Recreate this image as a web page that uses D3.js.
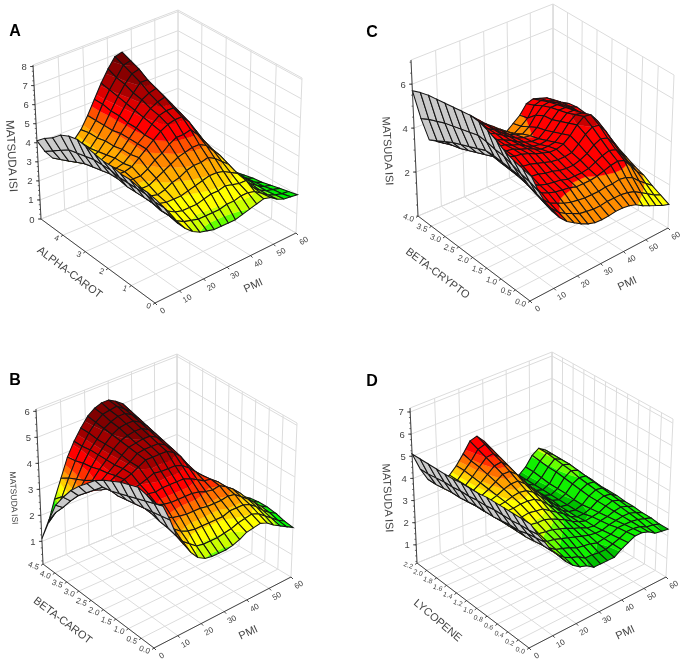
<!DOCTYPE html>
<html><head><meta charset="utf-8">
<script src="https://cdn.jsdelivr.net/npm/d3@7"></script>
<style>html,body{margin:0;padding:0;background:#fff}svg{display:block;filter:blur(0.35px)}text{font-family:"Liberation Sans",Arial,sans-serif;fill:#444}</style>
</head><body><svg id="c" width="685" height="662"></svg>
<script>
// Surface heights: one row per level of the nutrient (0 .. max), one column per PMI step
const pmiGrid=[0,3,6,9,12,15,18,21,24,27,30,33,36,39,42,45,48,51,54,57,60];
const matsudaA=[
[4.9,4.4,3.8,3.3,2.9,2.6,2.4,2.3,2.2,2.2,2.2,2.2,2.3,2.4,2.5,2.6,2.5,2.25,2.1,2.05,2.0],
[5.0,4.4,3.8,3.4,3.0,2.8,2.7,2.6,2.6,2.6,2.6,2.7,2.7,2.8,2.8,2.7,2.45,2.2,2.05,1.95,1.9],
[5.0,4.5,3.9,3.4,3.2,3.0,2.9,2.9,2.9,3.0,3.1,3.1,3.2,3.1,3.0,3.0,2.5,2.2,2.0,1.9,1.8],
[5.1,4.5,3.9,3.5,3.3,3.2,3.2,3.2,3.3,3.4,3.5,3.6,3.6,3.5,3.3,3.1,2.6,2.25,2.0,1.8,1.7],
[5.1,4.5,3.9,3.6,3.4,3.3,3.4,3.6,3.7,3.9,4.0,4.0,4.1,3.9,3.6,3.3,2.7,2.3,2.0,1.75,1.6],
[5.2,4.5,3.9,3.7,3.5,3.5,3.7,3.9,4.1,4.3,4.4,4.5,4.5,4.3,3.9,3.5,2.9,2.4,2.0,1.7,1.55],
[5.2,4.6,4.0,3.7,3.7,3.7,3.9,4.2,4.4,4.7,4.9,4.9,5.0,4.6,4.1,3.6,3.0,2.4,1.9,1.6,1.45],
[5.3,4.6,4.0,3.8,3.8,3.9,4.2,4.5,4.8,5.1,5.3,5.4,5.4,5.0,4.4,3.8,3.0,2.4,1.85,1.55,1.35],
[5.4,4.6,3.9,3.7,3.7,3.8,4.1,4.5,4.8,5.2,5.5,5.6,5.6,5.2,4.5,3.9,3.1,2.4,1.9,1.55,1.35],
[5.5,4.5,3.8,3.6,3.6,3.8,4.1,4.5,4.9,5.3,5.6,5.8,5.9,5.4,4.7,3.9,3.1,2.5,1.9,1.55,1.35],
[5.4,4.4,3.7,3.5,3.5,3.7,4.0,4.5,4.9,5.4,5.8,6.0,6.1,5.6,4.8,4.0,3.2,2.5,1.9,1.5,1.3],
[5.2,4.3,3.5,3.3,3.4,3.6,4.0,4.4,5.0,5.5,5.9,6.3,6.3,5.7,5.0,4.1,3.3,2.6,1.95,1.5,1.3],
[4.8,4.0,3.3,3.1,3.3,3.5,3.9,4.4,5.0,5.6,6.1,6.5,6.6,5.9,5.1,4.2,3.4,2.6,2.0,1.5,1.25],
[4.5,3.7,3.1,3.0,3.1,3.5,3.9,4.4,5.1,5.7,6.2,6.7,6.8,6.1,5.3,4.3,3.5,2.7,2.0,1.5,1.2],
[4.1,3.4,2.9,2.8,3.0,3.4,3.8,4.4,5.1,5.8,6.4,6.9,7.0,6.3,5.4,4.4,3.5,2.7,2.0,1.5,1.2]];
const matsudaB=[
[5.2,5.0,4.4,3.7,3.3,2.9,2.6,2.45,2.4,2.4,2.4,2.45,2.55,2.7,2.75,2.8,2.7,2.5,2.35,2.2,2.05],
[5.3,4.9,4.35,3.8,3.45,3.1,2.9,2.7,2.65,2.65,2.65,2.7,2.75,2.85,2.9,2.95,2.85,2.65,2.45,2.25,2.1],
[5.4,4.8,4.3,3.85,3.6,3.35,3.15,3.05,3.0,3.0,3.0,3.0,3.0,3.1,3.1,3.1,3.0,2.8,2.55,2.35,2.2],
[5.3,4.7,4.25,3.95,3.75,3.6,3.45,3.4,3.35,3.35,3.35,3.3,3.3,3.3,3.35,3.3,3.1,2.9,2.65,2.4,2.25],
[5.2,4.6,4.2,4.0,3.9,3.85,3.75,3.7,3.7,3.7,3.7,3.65,3.55,3.5,3.55,3.4,3.2,2.95,2.65,2.4,2.25],
[5.05,4.5,4.15,4.05,4.0,4.05,4.0,4.05,4.05,4.05,4.05,3.95,3.8,3.65,3.6,3.4,3.1,2.85,2.55,2.3,2.2],
[4.9,4.4,4.1,4.1,4.15,4.2,4.3,4.4,4.35,4.35,4.35,4.25,4.05,3.8,3.55,3.3,3.0,2.75,2.45,2.2,2.1],
[4.7,4.35,4.2,4.2,4.3,4.4,4.55,4.7,4.7,4.7,4.7,4.55,4.3,3.9,3.5,3.2,2.9,2.6,2.3,2.1,2.0],
[4.4,4.05,3.95,4.1,4.25,4.4,4.55,4.75,4.8,4.8,4.8,4.65,4.4,4.0,3.6,3.25,2.9,2.6,2.25,2.05,1.9],
[4.1,3.75,3.75,3.95,4.15,4.35,4.6,4.8,4.85,4.9,4.9,4.75,4.5,4.1,3.65,3.3,2.95,2.55,2.2,2.0,1.8],
[3.75,3.45,3.55,3.8,4.1,4.35,4.65,4.85,4.95,5.0,5.0,4.85,4.6,4.2,3.75,3.35,2.95,2.5,2.15,1.9,1.7],
[3.3,3.05,3.25,3.6,4.0,4.35,4.65,4.9,5.05,5.1,5.1,4.95,4.7,4.3,3.8,3.4,2.95,2.55,2.1,1.85,1.6],
[2.8,2.6,2.95,3.45,3.95,4.35,4.65,4.95,5.1,5.2,5.2,5.05,4.8,4.4,3.9,3.45,3.0,2.5,2.1,1.75,1.5],
[2.0,2.2,2.7,3.3,3.85,4.3,4.7,5.0,5.2,5.25,5.3,5.1,4.9,4.5,4.0,3.55,3.0,2.5,2.05,1.65,1.4],
[1.1,1.6,2.4,3.1,3.8,4.3,4.7,5.05,5.25,5.35,5.35,5.2,5.0,4.6,4.1,3.6,3.0,2.5,2.0,1.6,1.3]];
const matsudaC=[
[5.2,4.45,3.8,3.3,2.9,2.6,2.4,2.2,2.05,1.95,1.93,1.95,2.0,2.0,1.95,1.85,1.65,1.5,1.35,1.2,1.1],
[5.3,4.6,3.95,3.45,3.05,2.75,2.55,2.4,2.25,2.2,2.15,2.15,2.2,2.2,2.2,2.15,2.05,1.85,1.65,1.45,1.3],
[5.4,4.7,4.1,3.6,3.2,2.9,2.75,2.6,2.5,2.45,2.4,2.4,2.4,2.45,2.45,2.5,2.45,2.3,2.0,1.75,1.5],
[5.55,4.85,4.25,3.75,3.35,3.1,2.95,2.85,2.8,2.75,2.65,2.65,2.65,2.7,2.8,2.9,2.95,2.85,2.45,2.05,1.75],
[5.8,5.0,4.3,3.85,3.45,3.2,3.05,2.95,2.9,2.85,2.75,2.75,2.75,2.8,2.95,3.1,3.2,3.1,2.7,2.25,1.9],
[6.0,5.05,4.35,3.9,3.55,3.35,3.2,3.15,3.05,3.0,2.9,2.85,2.85,2.95,3.1,3.35,3.5,3.4,3.0,2.5,2.1],
[6.15,5.15,4.4,3.95,3.7,3.55,3.4,3.35,3.25,3.15,3.05,3.0,3.0,3.05,3.3,3.6,3.8,3.75,3.35,2.8,2.3],
[6.2,5.2,4.4,4.0,3.8,3.7,3.6,3.55,3.45,3.3,3.2,3.1,3.1,3.2,3.45,3.8,4.05,4.0,3.6,3.0,2.5],
[6.15,5.1,4.25,3.85,3.7,3.65,3.6,3.55,3.4,3.3,3.15,3.0,3.0,3.05,3.3,3.65,3.9,3.85,3.55,3.05,2.65],
[6.1,5.0,4.1,3.7,3.55,3.55,3.55,3.5,3.35,3.25,3.05,2.9,2.85,2.9,3.15,3.5,3.75,3.75,3.5,3.15,2.85],
[6.05,4.9,3.95,3.55,3.45,3.5,3.55,3.5,3.35,3.2,3.0,2.85,2.75,2.75,3.0,3.35,3.65,3.65,3.45,3.2,3.0],
[6.0,4.8,3.8,3.4,3.35,3.5,3.6,3.55,3.4,3.2,3.0,2.8,2.7,2.65,2.9,3.3,3.55,3.55,3.4,3.2,3.05],
[5.95,4.65,3.6,3.3,3.3,3.5,3.65,3.6,3.4,3.2,2.95,2.75,2.6,2.5,2.7,3.1,3.4,3.45,3.3,3.15,3.0],
[5.85,4.5,3.4,3.15,3.25,3.5,3.7,3.7,3.45,3.2,2.9,2.7,2.5,2.3,2.5,2.75,3.2,3.3,3.15,3.05,2.85],
[5.7,4.3,3.2,3.0,3.2,3.5,3.75,3.75,3.5,3.2,2.9,2.65,2.4,2.15,2.4,2.65,3.05,3.15,3.05,2.95,2.75]];
const matsudaD=[
[5.2,4.65,4.2,3.7,3.4,3.0,2.7,2.5,2.4,2.2,2.2,2.2,2.2,2.4,2.55,2.7,2.7,2.6,2.4,2.35,2.3],
[5.2,4.6,4.15,3.7,3.4,3.05,2.8,2.65,2.55,2.35,2.35,2.3,2.3,2.4,2.5,2.65,2.65,2.6,2.45,2.4,2.3],
[5.2,4.6,4.1,3.65,3.4,3.1,2.9,2.8,2.7,2.55,2.5,2.45,2.35,2.4,2.45,2.6,2.6,2.6,2.55,2.45,2.35],
[5.2,4.55,4.0,3.6,3.4,3.2,3.0,2.95,2.85,2.75,2.65,2.55,2.45,2.4,2.4,2.5,2.55,2.6,2.6,2.5,2.35],
[5.2,4.55,4.0,3.6,3.4,3.25,3.1,3.05,3.0,2.9,2.8,2.65,2.55,2.4,2.35,2.45,2.5,2.6,2.65,2.55,2.4],
[5.2,4.55,3.95,3.6,3.45,3.3,3.25,3.2,3.2,3.1,2.95,2.8,2.6,2.45,2.35,2.4,2.45,2.6,2.7,2.6,2.4],
[5.15,4.5,3.9,3.6,3.45,3.4,3.35,3.4,3.35,3.3,3.1,2.9,2.7,2.45,2.3,2.3,2.4,2.6,2.7,2.65,2.45],
[5.15,4.5,3.9,3.6,3.5,3.5,3.5,3.55,3.55,3.5,3.3,3.0,2.75,2.5,2.3,2.25,2.35,2.6,2.75,2.7,2.45],
[5.15,4.45,3.9,3.55,3.5,3.5,3.55,3.65,3.7,3.65,3.45,3.15,2.85,2.55,2.3,2.25,2.35,2.65,2.8,2.75,2.45],
[5.1,4.45,3.85,3.55,3.45,3.5,3.6,3.75,3.85,3.85,3.6,3.25,2.95,2.6,2.35,2.25,2.4,2.7,2.85,2.8,2.5],
[5.1,4.4,3.8,3.5,3.45,3.5,3.65,3.85,4.05,4.05,3.8,3.4,3.0,2.65,2.35,2.25,2.4,2.75,2.95,2.85,2.5],
[5.1,4.4,3.8,3.5,3.45,3.5,3.7,3.95,4.2,4.25,3.95,3.5,3.1,2.7,2.35,2.25,2.4,2.8,3.0,2.9,2.5],
[5.1,4.35,3.75,3.5,3.4,3.5,3.75,4.05,4.35,4.4,4.1,3.65,3.15,2.7,2.4,2.25,2.45,2.8,3.05,2.9,2.45],
[5.1,4.3,3.7,3.5,3.4,3.5,3.8,4.1,4.5,4.6,4.25,3.75,3.25,2.75,2.4,2.25,2.5,2.85,3.1,2.9,2.45],
[5.1,4.3,3.7,3.5,3.4,3.5,3.8,4.2,4.65,4.75,4.4,3.9,3.3,2.8,2.4,2.25,2.5,2.9,3.1,2.9,2.4]];
const pmiTicks=[0,10,20,30,40,50,60];
const alphaTicks=[0,1,2,3,4];
const betaCarotTicks=[0,0.5,1,1.5,2,2.5,3,3.5,4,4.5];
const betaCryptoTicks=[0,0.5,1,1.5,2,2.5,3,3.5,4];
const lycopeneTicks=[0,0.2,0.4,0.6,0.8,1,1.2,1.4,1.6,1.8,2,2.2];
const ticksA=[0,1,2,3,4,5,6,7,8], ticksB=[1,2,3,4,5,6], ticksC=[2,4,6], ticksD=[1,2,3,4,5,6,7];
const levelsA=[1.5,2.1,2.4,2.7,3.2,3.6,4.0,4.4,4.8,5.3,5.7,6.2,6.7];
const coloursA=["#00cc00","#00ee00","#66ff00","#ccff00","#ffff00","#ffd800","#ffaa00","#ff8800","#ff5000","#ff0000","#dd0000","#aa0000","#880000","#6e0000"];
const levelsB=[1.7,2.35,2.45,2.7,2.95,3.15,3.35,3.55,3.85,4.2,4.5,4.9];
const coloursB=["#00c800","#00ff00","#66ff00","#ccff00","#ffff00","#ffd000","#ffa000","#ff7000","#ff3000","#ff0000","#cc0000","#a00000","#800000"];
const levelsC=[1.8,2.7,3.8];
const coloursC=["#ffff00","#ff8c00","#ff0000","#c80000"];
const levelsD=[2.35,2.85,3.05,3.25,3.6,3.75,3.95,4.15,4.35];
const coloursD=["#00c000","#10f000","#66ff00","#ccff00","#ffff00","#ffd000","#ffa000","#ff7000","#ff3000","#ff0000"];

// Layout of the four panels (box corners on screen, titles, label sizes)
const panels=[
{letter:"A",lp:[15,30],grid:matsudaA,xMax:5,xTicks:alphaTicks,xFmt:d3.format("d"),xFont:8,xTitle:"ALPHA-CAROT",xt:[70,272,37,11],zTicks:ticksA,zDom:[0,8.08],zMinor:0.25,zt:[12,156,87,11.5],pt:[253,285],levels:levelsA,colours:coloursA,
 F:[155,303],L:[41,219],R:[296,233],B:[178,165],LT:[33,65],RT:[302,78],BT:[178,10]},
{letter:"B",lp:[15,379],grid:matsudaB,xMax:4.5,xTicks:betaCarotTicks,xFmt:d3.format(".1f"),xFont:8,xTitle:"BETA-CAROT",xt:[63,620,37,11],zTicks:ticksB,zDom:[0.13,6.09],zMinor:0.25,zt:[14,498,87,8.5],pt:[248,632],levels:levelsB,colours:coloursB,
 F:[154,648],L:[43,564],R:[291,577],B:[177,509],LT:[36,409],RT:[297,423],BT:[177,354]},
{letter:"C",lp:[372,31],grid:matsudaC,xMax:4,xTicks:betaCryptoTicks,xFmt:d3.format(".1f"),xFont:8,xTitle:"BETA-CRYPTO",xt:[438,273,37,11],zTicks:ticksC,zDom:[0,7.1],zMinor:0.5,zt:[388,151,87,11],pt:[627,283],levels:levelsC,colours:coloursC,
 F:[530,301],L:[418,216],R:[668,228],B:[553,160],LT:[411,60],RT:[674,75],BT:[553,4]},
{letter:"D",lp:[372,380],grid:matsudaD,xMax:2.2,xTicks:lycopeneTicks,xFmt:d3.format(".1f"),xFont:6.8,xTitle:"LYCOPENE",xt:[438,620,40,11],zTicks:ticksD,zDom:[0.18,7.18],zMinor:0.25,zt:[388,498,87,11],pt:[625,632],levels:levelsD,colours:coloursD,
 F:[529,648],L:[417,563],R:[666,577],B:[552,508],LT:[410,408],RT:[673,419],BT:[552,352]}
];
const svg=d3.select("#c");
const line=d3.line();
const K=0.05;
function drawPanel(P){
  const g=svg.append("g");
  const FT=[P.LT[0]+P.RT[0]-P.BT[0],P.LT[1]+P.RT[1]-P.BT[1]];
  const sx=d3.scaleLinear().domain([0,60]).range([0,1]);
  const sy=d3.scaleLinear().domain([0,P.xMax]).range([0,1]);
  const sz=d3.scaleLinear().domain(P.zDom).range([0,1]);
  const project=(u,v,w)=>{
    const cs=[[P.F,FT,1],[P.R,P.RT,1+K],[P.L,P.LT,1+K],[P.B,P.BT,1+2*K]];
    const bs=[(1-u)*(1-v),u*(1-v),(1-u)*v,u*v];
    let X=0,Y=0,W=0;
    cs.forEach((c,i)=>{const b=bs[i]*c[2];
      X+=b*(c[0][0]*(1-w)+c[1][0]*w);Y+=b*(c[0][1]*(1-w)+c[1][1]*w);W+=b;});
    return [X/W,Y/W];
  };
  const pt=(p,x,z)=>project(sx(p),sy(x),sz(z));
  const [z0,z1]=P.zDom;
  // walls and floor
  const wall=g.append("g").attr("fill","none").attr("stroke","#dcdcdc").attr("stroke-width",1);
  const seg=(a,b)=>wall.append("path").attr("d",line([a,b]));
  pmiTicks.forEach(p=>{seg(pt(p,P.xMax,z0),pt(p,P.xMax,z1));seg(pt(p,0,z0),pt(p,P.xMax,z0));});
  P.xTicks.concat([P.xMax]).forEach(x=>{seg(pt(60,x,z0),pt(60,x,z1));seg(pt(0,x,z0),pt(60,x,z0));});
  P.zTicks.concat([z1]).forEach(z=>{seg(pt(0,P.xMax,z),pt(60,P.xMax,z));seg(pt(60,P.xMax,z),pt(60,0,z));});
  // surface, far cells first
  const n=P.grid.length-1,m=pmiGrid.length-1;
  const rowX=j=>P.xMax*j/n;
  const surf=g.append("g");
  const bounds=[-Infinity].concat(P.levels,[Infinity]);
  const clip=(poly,lim,keepAbove)=>{
    const out=[];
    poly.forEach((a,i)=>{const b=poly[(i+1)%poly.length];
      const ia=keepAbove?a.z>=lim:a.z<=lim, ib=keepAbove?b.z>=lim:b.z<=lim;
      if(ia)out.push(a);
      if(ia!==ib){const t=(lim-a.z)/(b.z-a.z);
        out.push({z:lim,p:a.p+t*(b.p-a.p),x:a.x+t*(b.x-a.x)});}
    });return out;};
  const scr=q=>pt(q.p,q.x,q.z);
  for(let j=n-1;j>=0;j--)for(let i=m-1;i>=0;i--){
    const q=[[i,j],[i+1,j],[i+1,j+1],[i,j+1]].map(([a,b])=>({p:pmiGrid[a],x:rowX(b),z:P.grid[b][a]}));
    const s=q.map(scr);
    const area=d3.polygonArea(s);
    const cell=surf.append("g");
    if(area<0){ // underside turned to the viewer
      cell.append("path").attr("d",line(s)+"Z").attr("fill","#cacaca");
    }else{
      P.colours.forEach((c,k)=>{
        let poly=clip(q,bounds[k],true);
        if(poly.length)poly=clip(poly,bounds[k+1],false);
        if(poly.length>2)cell.append("path").attr("d",line(poly.map(scr))+"Z").attr("fill",c).attr("stroke",c).attr("stroke-width",0.3);
      });
    }
    cell.append("path").attr("d",line(s)+"Z").attr("fill","none").attr("stroke","#141414").attr("stroke-width",1.05);
  }
  // axes
  const ax=g.append("g").attr("stroke","#333").attr("fill","none").attr("stroke-width",0.9);
  ax.append("path").attr("d",line([pt(0,P.xMax,z0),pt(0,0,z0),pt(60,0,z0)]));
  ax.append("path").attr("d",line([pt(0,P.xMax,z0),pt(0,P.xMax,z1)]));
  const lab=g.append("g").attr("font-size",8);
  const place=(sel,x,y,r)=>sel.attr("transform",`translate(${x},${y}) rotate(${r})`);
  pmiTicks.forEach(p=>{const a=pt(p,0,z0);
    ax.append("path").attr("d",line([a,[a[0]+2,a[1]+2]]));
    place(lab.append("text").attr("text-anchor","middle").text(p),a[0]+9,a[1]+10,-30);});
  P.xTicks.forEach(x=>{const a=pt(0,x,z0);
    ax.append("path").attr("d",line([a,[a[0]-2,a[1]+1.5]]));
    place(lab.append("text").attr("text-anchor","end").attr("font-size",P.xFont).text(P.xFmt(x)),a[0]-5,a[1]+6,20);});
  P.zTicks.forEach(z=>{const a=pt(0,P.xMax,z);
    ax.append("path").attr("d",line([a,[a[0]-3,a[1]]]));
    lab.append("text").attr("text-anchor","middle").attr("font-size",9.5).attr("x",a[0]-9).attr("y",a[1]+3.5).text(z);});
  d3.range(Math.ceil(z0/P.zMinor)*P.zMinor,z1,P.zMinor).forEach(z=>{const a=pt(0,P.xMax,z);
    ax.append("path").attr("d",line([a,[a[0]-1.5,a[1]]])).attr("stroke-width",0.7);});
  // titles
  const title=(t,x,y,r,s)=>place(g.append("text").attr("text-anchor","middle").attr("dy","0.35em").attr("font-size",s).text(t),x,y,r);
  title("PMI",P.pt[0],P.pt[1],-25,11);
  title(P.xTitle,P.xt[0],P.xt[1],P.xt[2],P.xt[3]);
  title("MATSUDA ISI",P.zt[0],P.zt[1],P.zt[2],P.zt[3]);
  g.append("text").attr("x",P.lp[0]).attr("y",P.lp[1]).attr("text-anchor","middle").attr("dy","0.35em").attr("font-size",16).attr("font-weight",700).style("fill","#000").text(P.letter);
}
panels.forEach(drawPanel);
</script></body></html>
